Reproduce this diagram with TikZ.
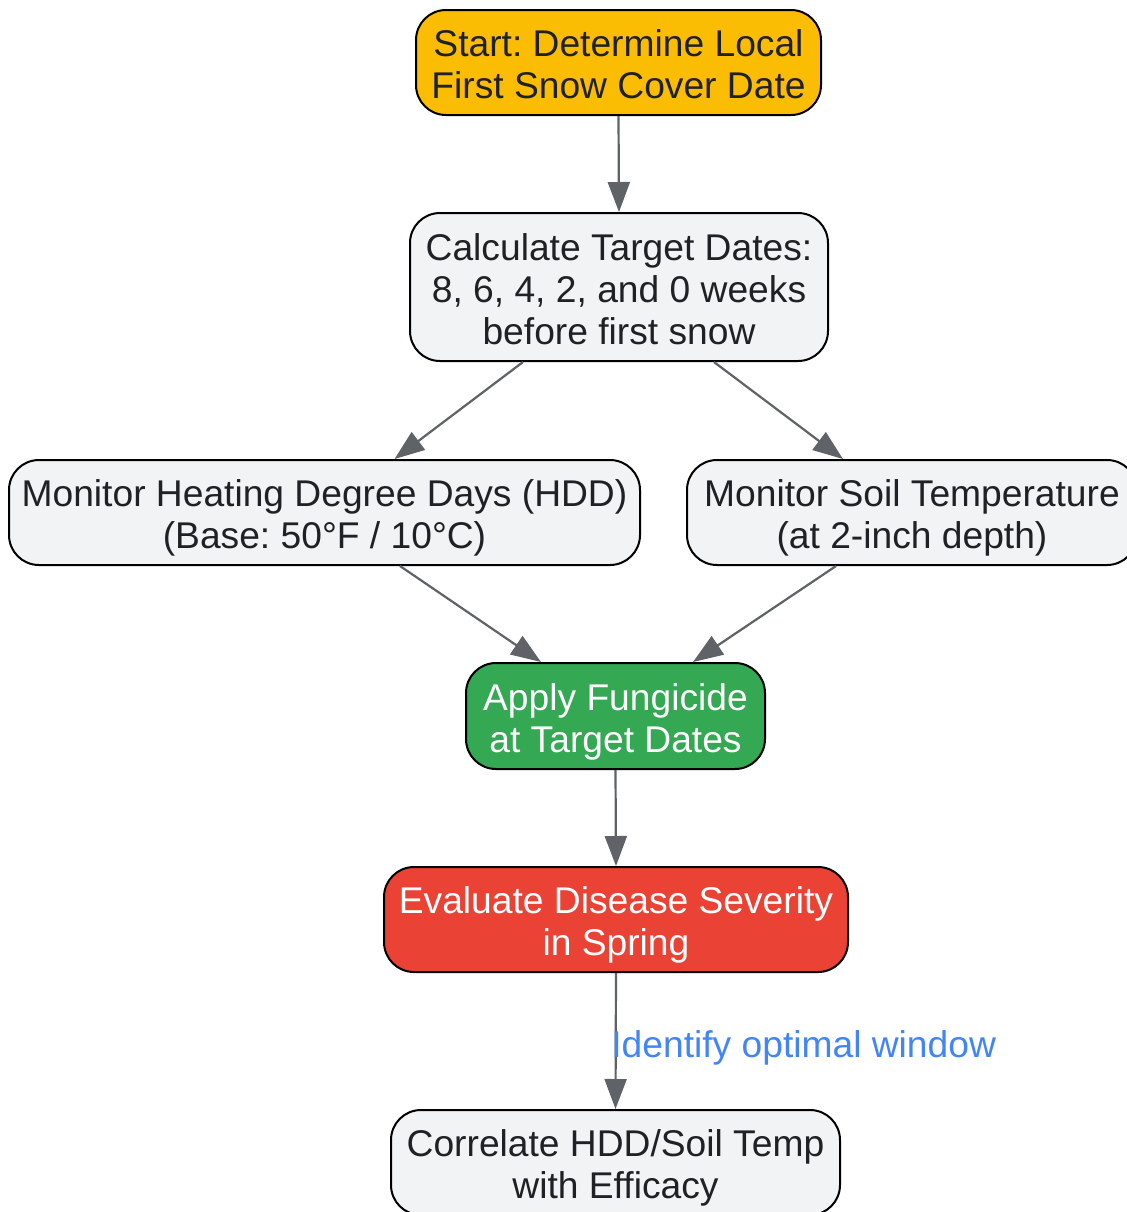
\documentclass[tikz,border=0pt]{standalone}
\usepackage{fontspec}
\setmainfont{Liberation Sans}
\usetikzlibrary{arrows.meta,calc}
\frenchspacing
\definecolor{txt}{HTML}{202124}
\definecolor{boxgray}{HTML}{F1F3F4}
\definecolor{gyellow}{HTML}{FBBC04}
\definecolor{ggreen}{HTML}{34A853}
\definecolor{gred}{HTML}{EA4335}
\definecolor{gblue}{HTML}{4285F4}
\definecolor{edgegray}{HTML}{5F6368}
\newcommand{\boxtext}[1]{\raisebox{-3.3pt}[\height][\depth]{\begin{tabular}{@{}c@{}}#1\end{tabular}}}
\tikzset{
  box/.style={draw=black, line width=1pt, rounded corners=15pt, fill=boxgray,
    text=txt, inner sep=0pt,
    font=\fontsize{18.6pt}{21pt}\selectfont\frenchspacing},
  arr/.style={draw=edgegray, line width=1.1pt, -{Triangle[length=15pt,width=11pt]}},
  lbl/.style={text=gblue, inner sep=0pt, font=\fontsize{18.6pt}{21pt}\selectfont}
}
\begin{document}
\begin{tikzpicture}[x=0.5pt,y=-0.5pt]
\useasboundingbox (0,0) rectangle (1127,1212);
\clip (0,0) rectangle (1127,1212);
\fill[white] (0,0) rectangle (1127,1212);
\node[box, fill=gyellow, minimum width=202.5pt, minimum height=52.5pt] (start) at (618.5,62.5) {\boxtext{Start: Determine Local\\First Snow Cover Date}};
\node[box, minimum width=209pt, minimum height=74pt] (calc) at (619,287) {\boxtext{Calculate Target Dates:\\8, 6, 4, 2, and 0 weeks\\before first snow}};
\node[box, minimum width=315.5pt, minimum height=52.5pt] (hdd) at (324.5,512.5) {\boxtext{Monitor Heating Degree Days (HDD)\\(Base: 50°F / 10°C)}};
\node[box, minimum width=225pt, minimum height=52.5pt] (soil) at (912,512.5) {\boxtext{Monitor Soil Temperature\\(at 2-inch depth)}};
\node[box, fill=ggreen, text=white, minimum width=149.5pt, minimum height=53pt] (apply) at (615.5,716) {\boxtext{Apply Fungicide\\at Target Dates}};
\node[box, fill=gred, text=white, minimum width=232pt, minimum height=52.5pt] (eval) at (616,919.5) {\boxtext{Evaluate Disease Severity\\in Spring}};
\node[box, minimum width=224.5pt, minimum height=52.5pt] (corr) at (615.5,1162.5) {\boxtext{Correlate HDD/Soil Temp\\with Efficacy}};
\draw[arr] (start.south) -- (calc.north);
\draw[arr] ([xshift=-48pt]calc.south) -- ([xshift=35pt]hdd.north);
\draw[arr] ([xshift=47.5pt]calc.south) -- ([xshift=-34.5pt]soil.north);
\draw[arr] ([xshift=37.75pt]hdd.south) -- ([xshift=-37.25pt]apply.north);
\draw[arr] ([xshift=-38pt]soil.south) -- ([xshift=38.75pt]apply.north);
\draw[arr] (apply.south) -- (eval.north);
\draw[arr] (eval.south) -- (corr.north);
\node[lbl, anchor=base west] (win) at (611,1057) {Identify optimal window};
\end{tikzpicture}
\end{document}
